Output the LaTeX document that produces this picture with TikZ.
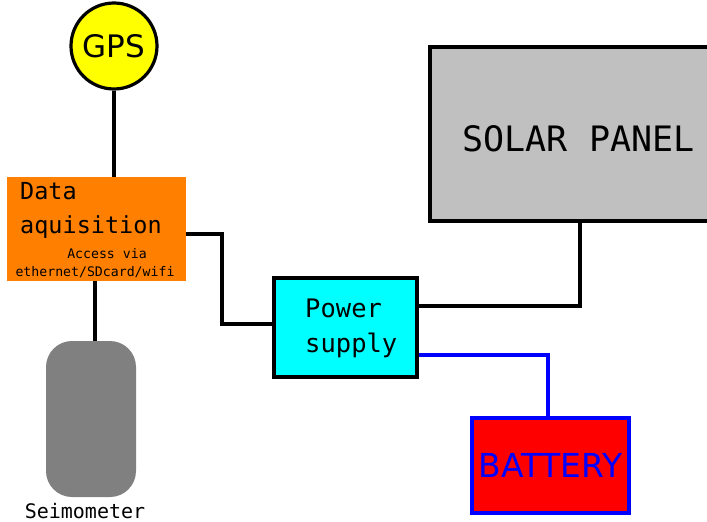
\documentclass[tikz,border=0pt]{standalone}
\usepackage{fontspec}
\setmainfont{DejaVu Sans}
\setmonofont{DejaVu Sans Mono}
\begin{document}
\begin{tikzpicture}[x=1pt,y=-1pt,
  wire/.style={line width=3.2pt,black},
  bwire/.style={line width=3.2pt,pblue},
  txt/.style={inner sep=0pt,font=\ttfamily}]
\definecolor{dorange}{HTML}{FF8000}
\definecolor{pcyan}{HTML}{00FFFF}
\definecolor{pgray}{HTML}{808080}
\definecolor{psilver}{HTML}{C0C0C0}
\definecolor{pyellow}{HTML}{FFFF00}
\definecolor{pred}{HTML}{FF0000}
\definecolor{pblue}{HTML}{0000FF}
\useasboundingbox (0,0) rectangle (707,522);
% GPS
\node[circle,draw=black,line width=3.2pt,fill=pyellow,minimum size=86pt,inner sep=0pt,font=\fontsize{31}{36}\selectfont] (gps) at (114,46) {GPS};
% Data acquisition
\node[rectangle,fill=dorange,minimum width=179pt,minimum height=104pt,inner sep=0pt] (daq) at (96.5,229) {};
\node[txt,anchor=base west,font=\ttfamily\fontsize{23.5}{28}\selectfont] (daq1) at (20,199) {Data};
\node[txt,anchor=base west,font=\ttfamily\fontsize{23.5}{28}\selectfont] (daq2) at (20,233) {aquisition};
\node[txt,anchor=base,font=\ttfamily\fontsize{13.2}{16}\selectfont] (daq3) at (107,258) {Access via};
\node[txt,anchor=base,font=\ttfamily\fontsize{13.2}{16}\selectfont] (daq4) at (95,276) {ethernet/SDcard/wifi};
% Seismometer
\node[rectangle,rounded corners=26pt,fill=pgray,minimum width=90pt,minimum height=156pt,inner sep=0pt] (seis) at (91,419) {};
\node[txt,anchor=base,font=\ttfamily\fontsize{20}{24}\selectfont] (seislbl) at (85,518) {Seimometer};
% Power supply
\node[rectangle,draw=black,line width=3.2pt,fill=pcyan,minimum width=143pt,minimum height=99pt,inner sep=0pt] (ps) at (345.5,327.5) {};
\node[txt,anchor=base west,font=\ttfamily\fontsize{25.5}{30}\selectfont] (ps1) at (305,317) {Power};
\node[txt,anchor=base west,font=\ttfamily\fontsize{25.5}{30}\selectfont] (ps2) at (305,352) {supply};
% Solar panel
\node[rectangle,draw=black,line width=3.2pt,fill=psilver,minimum width=290pt,minimum height=174pt,inner sep=0pt] (sp) at (575,134) {};
\node[txt,font=\ttfamily\fontsize{35}{40}\selectfont] (splbl) at (578.5,139) {SOLAR PANEL};
% Battery
\node[rectangle,draw=pblue,line width=3.2pt,fill=pred,minimum width=157pt,minimum height=95pt,inner sep=0pt,text=pblue,font=\fontsize{33}{38}\selectfont] (bat) at (550.5,465.5) {BATTERY};
% Connectors
\draw[wire] (gps.south) -- (gps.south |- daq.north);
\draw[wire] ([xshift=4pt]seis.north) -- ([xshift=4pt]seis.north |- daq.south);
\draw[wire] (daq.east |- 0,234) -| (222,324) -- (ps.west |- 0,324);
\draw[wire] (sp.south -| 580,0) |- (ps.east |- 0,306);
\draw[bwire] ([xshift=-2.5pt]bat.north) |- (ps.east |- 0,355);
\end{tikzpicture}
\end{document}
